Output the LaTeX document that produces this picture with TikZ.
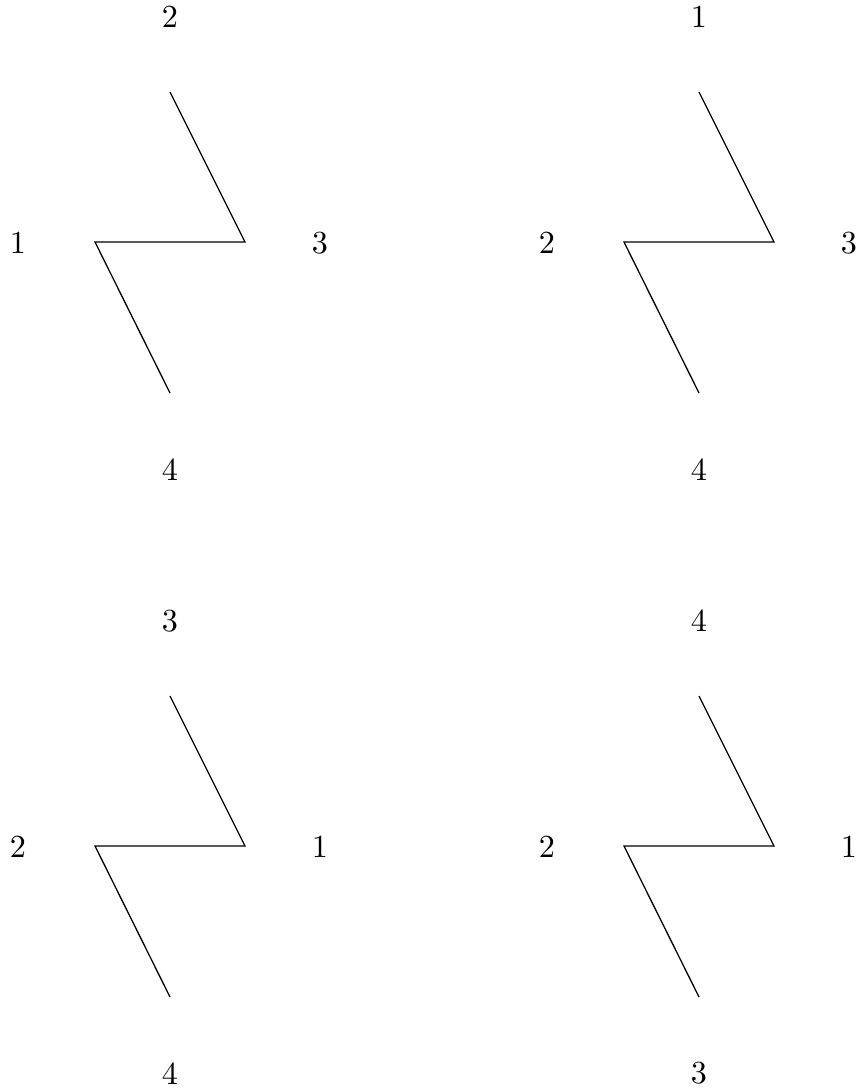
\documentclass[tikz,border=0pt]{standalone}
\usetikzlibrary{calc}
\tikzset{
 zigline/.style={line width=.4pt},
 digit/.style={inner sep=0,font=\normalsize}
}
\begin{document}
\begin{tikzpicture}[x=.311pt,y=-.311pt]
\path[use as bounding box] (0,0) rectangle (859,1091);
% top left
\coordinate (A1) at (170,92);
\coordinate (B1) at (245,242);
\coordinate (C1) at (95,242);
\coordinate (D1) at (170,393);
\draw[zigline] (A1) -- (B1) -- (C1) -- (D1);
\node[digit] (t1) at (170,17) {2};
\node[digit] (l1) at (18,243) {1};
\node[digit] (r1) at (320,243) {3};
\node[digit] (b1) at (170,470) {4};
% top right
\coordinate (A2) at (699,92);
\coordinate (B2) at (774,242);
\coordinate (C2) at (624,242);
\coordinate (D2) at (699,393);
\draw[zigline] (A2) -- (B2) -- (C2) -- (D2);
\node[digit] (t2) at (699,17) {1};
\node[digit] (l2) at (547,243) {2};
\node[digit] (r2) at (849,243) {3};
\node[digit] (b2) at (699,470) {4};
% bottom left
\coordinate (A3) at (170,696);
\coordinate (B3) at (245,846);
\coordinate (C3) at (95,846);
\coordinate (D3) at (170,997);
\draw[zigline] (A3) -- (B3) -- (C3) -- (D3);
\node[digit] (t3) at (170,621) {3};
\node[digit] (l3) at (18,847) {2};
\node[digit] (r3) at (320,847) {1};
\node[digit] (b3) at (170,1074) {4};
% bottom right
\coordinate (A4) at (699,696);
\coordinate (B4) at (774,846);
\coordinate (C4) at (624,846);
\coordinate (D4) at (699,997);
\draw[zigline] (A4) -- (B4) -- (C4) -- (D4);
\node[digit] (t4) at (699,621) {4};
\node[digit] (l4) at (547,847) {2};
\node[digit] (r4) at (849,847) {1};
\node[digit] (b4) at (699,1073) {3};
\end{tikzpicture}
\end{document}
